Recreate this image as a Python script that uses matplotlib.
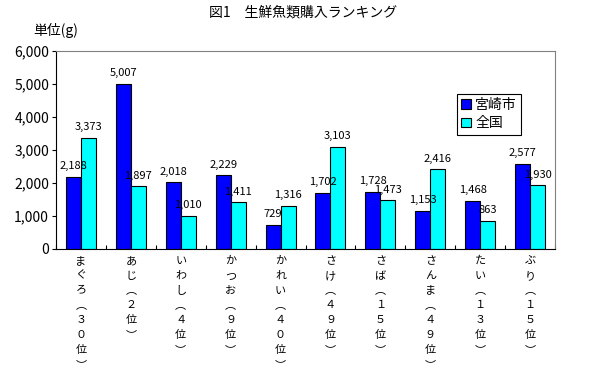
import matplotlib
matplotlib.use("Agg")
import matplotlib.pyplot as plt
import numpy as np
from matplotlib.ticker import FuncFormatter, FixedLocator

plt.rcParams['font.family'] = ['Noto Sans CJK JP', 'DejaVu Sans']

# data
fish = ['まぐろ', 'あじ', 'いわし', 'かつお', 'かれい', 'さけ', 'さば', 'さんま', 'たい', 'ぶり']
ranks = ['３０', '２', '４', '９', '４０', '４９', '１５', '４９', '１３', '１５']
miyazaki = [2188, 5007, 2018, 2229, 729, 1702, 1728, 1153, 1468, 2577]
zenkoku = [3373, 1897, 1010, 1411, 1316, 3103, 1473, 2416, 863, 1930]
series_names = ['宮崎市', '全国']

# vertical tick labels, one char per line
labels = []
for f, r in zip(fish, ranks):
  s = f + '︵' + r + '位' + '︶'
  labels.append('\n'.join(list(s)))

fig = plt.figure(figsize=(5.93, 3.74), dpi=100)
ax = fig.add_axes([56/593, 1 - 249/374, (555 - 56)/593, (249 - 51)/374])

x = np.arange(len(fish))
w = 0.3
b1 = ax.bar(x - w/2, miyazaki, w, color='#0000FF', edgecolor='black', linewidth=0.8, label=series_names[0])
b2 = ax.bar(x + w/2, zenkoku, w, color='#00FFFF', edgecolor='black', linewidth=0.8, label=series_names[1])

for bars, vals in [(b1, miyazaki), (b2, zenkoku)]:
  for bar, v in zip(bars, vals):
    ax.annotate('{:,}'.format(v), (bar.get_x() + bar.get_width()/2, v),
                xytext=(0, 4), textcoords='offset points',
                ha='center', va='bottom', fontsize=8)

ax.set_xlim(-0.5, len(fish) - 0.5)
ax.set_ylim(0, 6000)
ax.set_yticks(range(0, 6001, 1000))
ax.yaxis.set_major_formatter(FuncFormatter(lambda v, p: '{:,}'.format(int(v))))
ax.tick_params(axis='y', direction='out', length=3, width=0.8, labelsize=10, pad=2)

ax.set_xticks(x)
ax.set_xticklabels(labels, fontsize=8, va='top')
for t in ax.get_xticklabels():
  t.set_linespacing(1.6)
ax.xaxis.set_minor_locator(FixedLocator(np.arange(-0.5, len(fish), 1.0)))
ax.tick_params(axis='x', which='major', length=0, pad=5)
ax.tick_params(axis='x', which='minor', direction='in', length=3, width=0.8)

ax.spines['top'].set_color('#808080')
ax.spines['right'].set_color('#808080')
for s in ax.spines.values():
  s.set_linewidth(0.8)

leg = ax.legend(loc='upper left', bbox_to_anchor=(457/593, 1 - 94/374), bbox_transform=fig.transFigure,
                fontsize=10, frameon=True, fancybox=False, framealpha=1, edgecolor='black',
                handlelength=0.7, handleheight=0.7, handletextpad=0.3, borderpad=0.3,
                labelspacing=0.3, borderaxespad=0)
leg.get_frame().set_linewidth(0.8)

fig.text(303/593, 1 - 13/374, '図1　生鮮魚類購入ランキング', ha='center', va='center', fontsize=10)
fig.text(33/593, 1 - 30/374, '単位(g)', ha='left', va='center', fontsize=10)

fig.savefig('out.png', dpi=100)
